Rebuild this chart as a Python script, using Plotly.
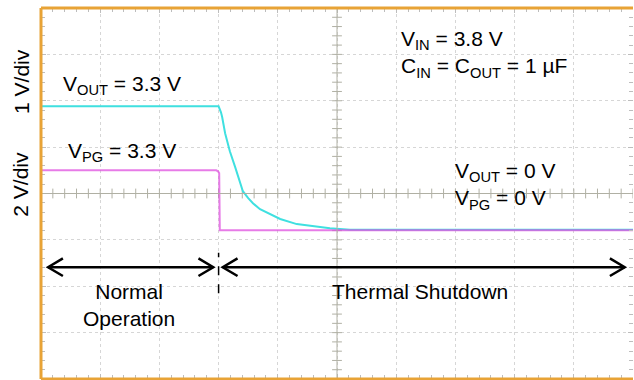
import plotly.graph_objects as go

# screen is 10 x 8 divisions (in divisions)
t_vout = [0, 3.0, 3.04, 3.06, 3.11, 3.19, 3.28, 3.35, 3.41, 3.50, 3.58, 3.70, 3.82, 4.04, 4.32, 4.60, 4.88, 5.22, 10]
v_vout = [5.88, 5.88, 5.75, 5.65, 5.30, 4.91, 4.57, 4.29, 4.05, 3.90, 3.79, 3.66, 3.58, 3.45, 3.34, 3.29, 3.25, 3.22, 3.22]

t_vpg = [0, 2.96, 2.99, 3.01, 3.02, 10]
v_vpg = [4.50, 4.50, 4.48, 4.44, 3.21, 3.21]

CYAN = '#3fe0e0'
MAGENTA = '#e050e0'
ORANGE = '#e8a336'
FONT = 'Liberation Sans, Arial, sans-serif'

fig = go.Figure()

# centre graticule ticks
fig.add_trace(go.Scatter(x=[k * 0.2 for k in range(51)], y=[4] * 51, mode='markers',
                         marker=dict(symbol='line-ns', size=7, line=dict(color='#b0b0a4', width=1)),
                         hoverinfo='skip', showlegend=False))
fig.add_trace(go.Scatter(x=[5] * 41, y=[k * 0.2 for k in range(41)], mode='markers',
                         marker=dict(symbol='line-ew', size=7, line=dict(color='#b0b0a4', width=1)),
                         hoverinfo='skip', showlegend=False))

fig.add_trace(go.Scatter(x=t_vout, y=v_vout, mode='lines', line=dict(color=CYAN, width=2),
                         hoverinfo='skip', showlegend=False))
fig.add_trace(go.Scatter(x=t_vpg, y=v_vpg, mode='lines', line=dict(color=MAGENTA, width=2),
                         opacity=0.75, hoverinfo='skip', showlegend=False))

axis = dict(showgrid=True, gridcolor='#d6d6d6', griddash='dot', gridwidth=1,
            zeroline=False, showticklabels=False, showline=False,
            ticks='inside', ticklen=5, tickcolor='#bdbdbd', mirror='allticks',
            dtick=1, tick0=0, fixedrange=True,
            minor=dict(dtick=0.2, tick0=0, ticks='inside', ticklen=4, tickcolor='#bdbdbd', showgrid=False))

fig.update_layout(width=634, height=380, margin=dict(l=41, r=1, t=8, b=1),
                  paper_bgcolor='white', plot_bgcolor='white',
                  xaxis=dict(range=[0, 10], **axis),
                  yaxis=dict(range=[0, 8], **axis),
                  font=dict(family=FONT, size=21, color='black'))

shapes = [
    # centre cross
    dict(type='line', xref='x', yref='y', x0=5, x1=5, y0=0, y1=8, line=dict(color='#b0b0a4', width=1)),
    dict(type='line', xref='x', yref='y', x0=0, x1=10, y0=4, y1=4, line=dict(color='#b0b0a4', width=1)),
    # frame (no right edge)
    dict(type='line', xref='paper', yref='paper', x0=0, x1=0, y0=0, y1=1, line=dict(color=ORANGE, width=3)),
    dict(type='line', xref='paper', yref='paper', x0=0, x1=1, y0=1, y1=1, line=dict(color=ORANGE, width=3)),
    dict(type='line', xref='paper', yref='paper', x0=0, x1=1, y0=0, y1=0, line=dict(color=ORANGE, width=3)),
    # arrows
    dict(type='line', xref='x', yref='y', x0=0.12, x1=2.91, y0=2.41, y1=2.41, line=dict(color='black', width=2.5)),
    dict(type='line', xref='x', yref='y', x0=3.07, x1=9.86, y0=2.41, y1=2.41, line=dict(color='black', width=2.5)),
    dict(type='path', xref='x', yref='y', path='M 0.37 2.60 L 0.12 2.41 L 0.37 2.22', line=dict(color='black', width=2.5)),
    dict(type='path', xref='x', yref='y', path='M 2.66 2.60 L 2.91 2.41 L 2.66 2.22', line=dict(color='black', width=2.5)),
    dict(type='path', xref='x', yref='y', path='M 3.32 2.60 L 3.07 2.41 L 3.32 2.22', line=dict(color='black', width=2.5)),
    dict(type='path', xref='x', yref='y', path='M 9.61 2.60 L 9.86 2.41 L 9.61 2.22', line=dict(color='black', width=2.5)),
    dict(type='line', xref='x', yref='y', x0=3.0, x1=3.0, y0=1.85, y1=2.72, line=dict(color='black', width=1.5, dash='dash')),
]
fig.update_layout(shapes=shapes)

notes = [
    dict(text='1 V/div', xref='paper', yref='paper', x=-0.034, y=0.803, textangle=-90, xanchor='center'),
    dict(text='2 V/div', xref='paper', yref='paper', x=-0.034, y=0.526, textangle=-90, xanchor='center'),
    dict(text='V<sub>OUT</sub> = 3.3 V', x=0.33, y=6.34, xanchor='left'),
    dict(text='V<sub>PG</sub> = 3.3 V', x=0.42, y=4.89, xanchor='left'),
    dict(text='V<sub>IN</sub> = 3.8 V<br>C<sub>IN</sub> = C<sub>OUT</sub> = 1 µF', x=6.05, y=7.0,
         xanchor='left', align='left'),
    dict(text='V<sub>OUT</sub> = 0 V<br>V<sub>PG</sub> = 0 V', x=6.96, y=4.16, xanchor='left', align='left'),
    dict(text='Normal<br>Operation', x=1.48, y=1.59),
    dict(text='Thermal Shutdown', x=6.40, y=1.89),
]
for n in notes:
    fig.add_annotation(showarrow=False, yanchor='middle', **n)

# the page body has an 8px default margin; drop it so the figure sits at 0,0
fig.write_html('out.html', config={'displayModeBar': False},
               post_script="document.body.style.margin = '0';")
